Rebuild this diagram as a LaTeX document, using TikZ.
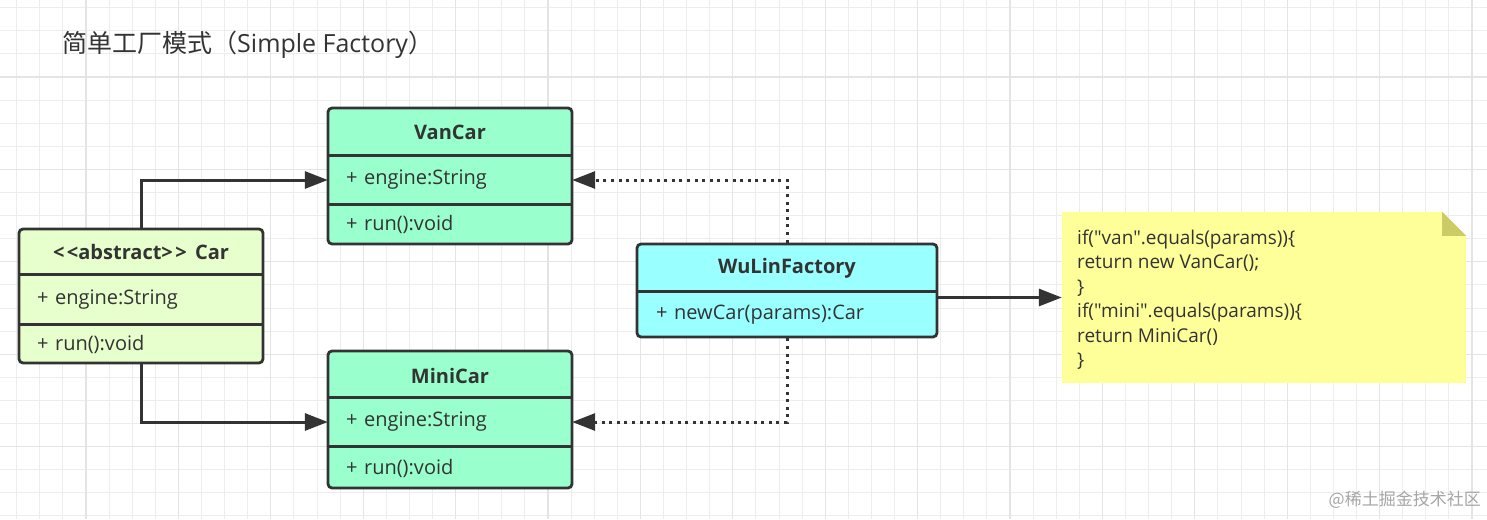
\documentclass[tikz,border=0pt]{standalone}
\usepackage{fontspec}
\setmainfont{Open Sans}[Ligatures=TeXOff]
\newfontfamily\cjk{Noto Sans CJK SC}
\usetikzlibrary{arrows.meta}
\definecolor{edge}{HTML}{333333}
\definecolor{txt}{HTML}{333333}
\definecolor{carfill}{HTML}{E6FFCC}
\definecolor{vanfill}{HTML}{99FFCC}
\definecolor{facfill}{HTML}{99FFFF}
\definecolor{notefill}{HTML}{FFFF99}
\definecolor{foldfill}{HTML}{CCCC66}
\definecolor{gridminor}{HTML}{EDEDED}
\definecolor{gridmajor}{HTML}{E4E4E4}
\tikzset{
  classbox/.style={draw=edge, line width=2.8pt, rounded corners=4pt, inner sep=0pt},
  hdr/.style={font=\bfseries\fontsize{20}{24}\selectfont, text=txt, inner sep=0pt},
  row/.style={font=\fontsize{20}{24}\selectfont, text=txt, inner xsep=18pt, inner ysep=0pt, align=left},
  divider/.style={draw=edge, line width=2.8pt},
  solidarr/.style={draw=edge, line width=3pt, -{Triangle[length=23pt,width=17pt]}},
  dotarr/.style={draw=edge, line width=3pt, dash pattern=on 3pt off 4.6pt, -{Triangle[length=23pt,width=17pt]}},
}
\begin{document}
\begin{tikzpicture}[x=1pt,y=-1pt]
\useasboundingbox (0,0) rectangle (1487,519);
\fill[white] (0,0) rectangle (1487,519);
% grid
\foreach \k [evaluate=\k as \xx using 16.7+23.1*\k] in {0,...,63} {\draw[gridminor, line width=1pt] (\xx,0) -- (\xx,519);}
\foreach \k [evaluate=\k as \yy using 7.7+23.1*\k] in {0,...,22} {\draw[gridminor, line width=1pt] (0,\yy) -- (1487,\yy);}
\foreach \k [evaluate=\k as \xx using 86.0+92.4*\k] in {0,...,15} {\draw[gridmajor, line width=1.2pt] (\xx,0) -- (\xx,519);}
\foreach \k [evaluate=\k as \yy using 77.0+92.4*\k] in {0,...,4} {\draw[gridmajor, line width=1.2pt] (0,\yy) -- (1487,\yy);}

% title
\node[anchor=west, text=txt, inner sep=0pt, font=\fontsize{25}{30}\selectfont] (title) at (62,45) {{\cjk 简单工厂模式（}Simple Factory{\cjk ）}};

% Car
\node[classbox, fill=carfill, minimum width=244pt, minimum height=134pt] (car) at (141,296) {};
\node[hdr] (carh) at (141,252) {<\kern2.5pt<abstract>\kern2.5pt>\kern3pt{} Car};
\node[row, minimum width=244pt, minimum height=49pt, text width=208pt] (cara) at (141,299.5) {+ engine:String};
\node[row, minimum width=244pt, minimum height=39pt, text width=208pt] (carm) at (141,344) {+ run():void};
\draw[divider] (cara.north west) -- (cara.north east);
\draw[divider] (carm.north west) -- (carm.north east);

% VanCar
\node[classbox, fill=vanfill, minimum width=244pt, minimum height=136pt] (van) at (450,176) {};
\node[hdr] (vanh) at (450,132) {VanCar};
\node[row, minimum width=244pt, minimum height=48pt, text width=208pt] (vana) at (450,180) {+ engine:String};
\node[row, minimum width=244pt, minimum height=40pt, text width=208pt] (vanm) at (450,224.5) {+ run():void};
\draw[divider] (vana.north west) -- (vana.north east);
\draw[divider] (vanm.north west) -- (vanm.north east);

% MiniCar
\node[classbox, fill=vanfill, minimum width=244pt, minimum height=137pt] (mini) at (450,419.5) {};
\node[hdr] (minih) at (450,376) {MiniCar};
\node[row, minimum width=244pt, minimum height=48pt, text width=208pt] (minia) at (450,422) {+ engine:String};
\node[row, minimum width=244pt, minimum height=42pt, text width=208pt] (minim) at (450,468) {+ run():void};
\draw[divider] (minia.north west) -- (minia.north east);
\draw[divider] (minim.north west) -- (minim.north east);

% WuLinFactory
\node[classbox, fill=facfill, minimum width=300pt, minimum height=93pt] (fac) at (787,290.5) {};
\node[hdr] (fach) at (787,268) {WuLinFactory};
\node[row, minimum width=300pt, minimum height=46pt, text width=262pt, inner xsep=19pt] (facm) at (787,314.5) {+ newCar(params):Car};
\draw[divider] (facm.north west) -- (facm.north east);

% note
\node[minimum width=404pt, minimum height=171pt, inner sep=0pt] (note) at (1264,297.5) {};
\fill[notefill] (note.north west) -- ([xshift=-24pt]note.north east) -- ([yshift=-24pt]note.north east) -- (note.south east) -- (note.south west) -- cycle;
\fill[foldfill] ([xshift=-24pt]note.north east) -- ([yshift=-24pt]note.north east) -- ([xshift=-24pt,yshift=-24pt]note.north east) -- cycle;
\node[anchor=north west, inner sep=0pt, align=left, text=txt, font=\fontsize{19}{24.5}\selectfont] (code) at (1077,226.8) {\strut if("van".equals(params))\{\\return new VanCar();\\\}\\if("mini".equals(params))\{\\return MiniCar()\\\}};

% connectors
\draw[solidarr] (car.north) |- (vana.west);
\draw[solidarr] (car.south) |- (minia.west);
\draw[dotarr] (fac.north) |- (vana.east);
\draw[dotarr] (fac.south) |- (minia.east);
\draw[solidarr] (fac.east |- note.west) -- (note.west);

% watermark
\node[anchor=east, inner sep=0pt, text=black!35, font=\cjk\fontsize{17}{20}\selectfont] (wm) at (1481,500) {@稀土掘金技术社区};
\end{tikzpicture}
\end{document}
